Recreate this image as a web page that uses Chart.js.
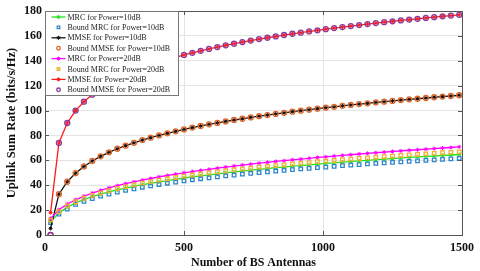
<!DOCTYPE html>
<html>
<head>
<meta charset="utf-8">
<title>Uplink Sum Rate</title>
<script src="https://cdn.jsdelivr.net/npm/chart.js@4/dist/chart.umd.min.js"></script>
<style>
    html, body { margin: 0; padding: 0; background: #fff; }
    #rateChart { display: block; }
</style>
</head>
<body>
<canvas id="rateChart" width="480" height="271"></canvas>
<script>
// Number of BS antennas (x)
var antennas = [20, 50, 80, 110, 140, 170, 200, 230, 260, 290, 320, 350, 380, 410, 440, 470, 500, 530, 560, 590,
    620, 650, 680, 710, 740, 770, 800, 830, 860, 890, 920, 950, 980, 1010, 1040, 1070, 1100, 1130, 1160, 1190,
    1220, 1250, 1280, 1310, 1340, 1370, 1400, 1430, 1460, 1490];

var mrc10 = [10.9, 17.6, 22.4, 25.8, 28.5, 30.8, 32.8, 34.6, 36.2, 37.7, 39.1, 40.4, 41.5, 42.7, 43.7, 44.7, 45.8, 46.7, 47.5, 48.3,
    49.1, 50.0, 50.7, 51.4, 52.1, 52.8, 53.4, 54.1, 54.6, 55.3, 55.8, 56.4, 57.0, 57.5, 58.0, 58.6, 59.0, 59.6, 60.0, 60.5,
    60.9, 61.4, 61.9, 62.3, 62.7, 63.1, 63.5, 64.0, 64.3, 64.7];
var boundMrc10 = [10.0, 16.8, 20.8, 24.6, 27.1, 29.3, 31.2, 32.9, 34.5, 35.8, 37.1, 38.4, 39.5, 40.6, 41.6, 42.5, 43.5, 44.4, 45.2, 45.9,
    46.7, 47.5, 48.2, 48.9, 49.5, 50.2, 50.8, 51.4, 51.9, 52.5, 53.1, 53.6, 54.2, 54.6, 55.2, 55.7, 56.1, 56.6, 57.1, 57.5,
    57.9, 58.4, 58.8, 59.2, 59.6, 60.0, 60.4, 60.8, 61.2, 61.5];
var mmse10 = [5.3, 32.8, 42.8, 49.7, 55.1, 59.5, 63.2, 66.4, 69.3, 71.8, 74.1, 76.3, 78.2, 80.0, 81.7, 83.3, 84.8, 86.3, 87.6, 88.9,
    90.1, 91.3, 92.4, 93.4, 94.5, 95.5, 96.4, 97.3, 98.2, 99.1, 99.9, 100.7, 101.5, 102.3, 103.0, 103.8, 104.5, 105.2, 105.8, 106.5,
    107.1, 107.7, 108.4, 109.0, 109.5, 110.1, 110.7, 111.2, 111.7, 112.3];
var boundMmse10 = [0, 32.8, 42.8, 49.7, 55.1, 59.5, 63.2, 66.4, 69.3, 71.8, 74.1, 76.3, 78.2, 80.0, 81.7, 83.3, 84.8, 86.3, 87.6, 88.9,
    90.1, 91.3, 92.4, 93.4, 94.5, 95.5, 96.4, 97.3, 98.2, 99.1, 99.9, 100.7, 101.5, 102.3, 103.0, 103.8, 104.5, 105.2, 105.8, 106.5,
    107.1, 107.7, 108.4, 109.0, 109.5, 110.1, 110.7, 111.2, 111.7, 112.3];
var mrc20 = [13.3, 20.3, 24.8, 28.3, 31.2, 33.7, 35.9, 37.8, 39.6, 41.2, 42.7, 44.1, 45.4, 46.7, 47.8, 48.9, 50.0, 51.0, 51.9, 52.8,
    53.7, 54.6, 55.4, 56.2, 56.9, 57.7, 58.4, 59.1, 59.7, 60.4, 61.0, 61.6, 62.3, 62.8, 63.4, 64.0, 64.5, 65.1, 65.6, 66.1,
    66.6, 67.1, 67.6, 68.1, 68.5, 69.0, 69.4, 69.9, 70.3, 70.8];
var boundMrc20 = [12.0, 18.8, 23.3, 26.7, 29.5, 31.8, 33.9, 35.7, 37.4, 38.9, 40.4, 41.7, 42.9, 44.1, 45.2, 46.2, 47.3, 48.2, 49.0, 49.9,
    50.7, 51.6, 52.4, 53.1, 53.8, 54.5, 55.2, 55.8, 56.4, 57.1, 57.6, 58.2, 58.9, 59.3, 59.9, 60.5, 61.0, 61.5, 62.0, 62.5,
    62.9, 63.4, 63.9, 64.4, 64.7, 65.2, 65.6, 66.1, 66.4, 66.8];
var mmse20 = [18.0, 74.0, 90.0, 100.0, 107.1, 112.8, 117.6, 121.8, 125.4, 128.6, 131.5, 134.1, 136.6, 138.8, 140.9, 142.8, 144.7, 146.4, 148.0, 149.5,
    151.0, 152.4, 153.7, 155.0, 156.2, 157.4, 158.5, 159.6, 160.7, 161.7, 162.6, 163.6, 164.5, 165.4, 166.3, 167.1, 167.9, 168.7, 169.5, 170.3,
    171.0, 171.7, 172.4, 173.1, 173.7, 174.4, 175.0, 175.7, 176.3, 176.9];
var boundMmse20 = [0, 74.0, 90.0, 100.0, 107.1, 112.8, 117.6, 121.8, 125.4, 128.6, 131.5, 134.1, 136.6, 138.8, 140.9, 142.8, 144.7, 146.4, 148.0, 149.5,
    151.0, 152.4, 153.7, 155.0, 156.2, 157.4, 158.5, 159.6, 160.7, 161.7, 162.6, 163.6, 164.5, 165.4, 166.3, 167.1, 167.9, 168.7, 169.5, 170.3,
    171.0, 171.7, 172.4, 173.1, 173.7, 174.4, 175.0, 175.7, 176.3, 176.9];

var xTicks = [0, 500, 1000, 1500];
var yTicks = [0, 20, 40, 60, 80, 100, 120, 140, 160, 180];

function toPoints(values) {
    return values.map(function(v, i) { return {x: antennas[i], y: v}; });
}

// line series: thin line with small star markers
function lineSet(label, values, color) {
    return {
        label: label,
        data: toPoints(values),
        borderColor: color,
        backgroundColor: color,
        borderWidth: 1.3,
        pointStyle: 'star',
        pointRadius: 2,
        pointBorderWidth: 1,
        showLine: true
    };
}
// bound series: markers only
function markSet(label, values, color, style) {
    return {
        label: label,
        data: toPoints(values),
        borderColor: color,
        backgroundColor: 'rgba(255,255,255,0)',
        pointStyle: style,
        pointRadius: 2.5,
        pointBorderWidth: 1.3,
        showLine: false
    };
}

var datasets = [
    lineSet('MRC for Power=10dB', mrc10, '#22e022'),
    markSet('Bound MRC for Power=10dB', boundMrc10, '#2f86cc', 'rect'),
    lineSet('MMSE for Power=10dB', mmse10, '#111111'),
    markSet('Bound MMSE for Power=10dB', boundMmse10, '#e0662a', 'circle'),
    lineSet('MRC for Power=20dB', mrc20, '#ff00ff'),
    markSet('Bound MRC for Power=20dB', boundMrc20, '#f0b030', 'rect'),
    lineSet('MMSE for Power=20dB', mmse20, '#ff1a1a'),
    markSet('Bound MMSE for Power=20dB', boundMmse20, '#8a3a9a', 'circle')
];
// later series drawn on top, like matlab
datasets.forEach(function(d, i) { d.order = datasets.length - i; });

var serif = "'Liberation Serif', 'Times New Roman', serif";

// box around the axes, inward ticks and the legend inside the plot
var framePlugin = {
    id: 'frame',
    afterDraw: function(chart) {
        var ctx = chart.ctx;
        var a = chart.chartArea;
        var xs = chart.scales.x, ys = chart.scales.y;
        ctx.save();
        ctx.strokeStyle = '#555';
        ctx.lineWidth = 1;
        ctx.beginPath();
        yTicks.forEach(function(t) {
            var py = Math.round(ys.getPixelForValue(t)) + 0.5;
            ctx.moveTo(a.left, py); ctx.lineTo(a.left + 4, py);
            ctx.moveTo(a.right, py); ctx.lineTo(a.right - 4, py);
        });
        xTicks.forEach(function(t) {
            var px = Math.round(xs.getPixelForValue(t)) + 0.5;
            ctx.moveTo(px, a.bottom); ctx.lineTo(px, a.bottom - 4);
            ctx.moveTo(px, a.top); ctx.lineTo(px, a.top + 4);
        });
        ctx.stroke();
        ctx.strokeRect(Math.round(a.left) + 0.5, Math.round(a.top) + 0.5, Math.round(a.right - a.left), Math.round(a.bottom - a.top));

        // legend
        var lx = Math.round(a.left) + 0.5, ly = Math.round(a.top) + 0.5;
        var lw = 133, lh = 84;
        ctx.fillStyle = '#fff';
        ctx.fillRect(lx, ly, lw, lh);
        ctx.strokeStyle = '#777';
        ctx.strokeRect(lx, ly, lw, lh);
        ctx.font = '8px ' + serif;
        ctx.textBaseline = 'middle';
        datasets.forEach(function(d, i) {
            var rowY = ly + 5.5 + i * 10.4;
            ctx.strokeStyle = d.borderColor;
            ctx.fillStyle = d.showLine ? d.borderColor : 'rgba(255,255,255,0)';
            if (d.showLine) {
                ctx.lineWidth = 1.3;
                ctx.beginPath();
                ctx.moveTo(lx + 6, rowY); ctx.lineTo(lx + 20, rowY);
                ctx.stroke();
            }
            ctx.lineWidth = d.pointBorderWidth;
            Chart.helpers.drawPoint(ctx, {
                pointStyle: d.pointStyle,
                radius: d.showLine ? 2 : 1.8,
                rotation: 0,
                borderWidth: d.pointBorderWidth
            }, lx + 13, rowY);
            ctx.fillStyle = '#222';
            ctx.fillText(d.label, lx + 22, rowY + 0.5);
        });
        ctx.restore();
    }
};

var rateChartCtx = document.getElementById('rateChart').getContext('2d');
var rateChart = new Chart(rateChartCtx, {
    type: 'line',
    data: { datasets: datasets },
    options: {
        responsive: false,
        animation: false,
        devicePixelRatio: 1,
        layout: { padding: { top: 11, right: 16, left: 0, bottom: 0 } },
        plugins: {
            legend: { display: false },
            tooltip: { enabled: false }
        },
        scales: {
            x: {
                type: 'linear',
                min: 0,
                max: 1500,
                afterBuildTicks: function(scale) {
                    scale.ticks = xTicks.map(function(v) { return {value: v}; });
                },
                afterFit: function(scale) { scale.height = 36; },
                grid: { color: '#e4e4e4', drawTicks: false },
                border: { display: false },
                ticks: {
                    padding: 6,
                    color: '#111',
                    maxRotation: 0,
                    callback: function(value) { return String(value); },
                    font: { family: serif, size: 12, weight: 'bold' }
                },
                title: {
                    display: true,
                    text: 'Number of BS Antennas',
                    color: '#111',
                    padding: { top: 0, bottom: 1 },
                    font: { family: serif, size: 12, weight: 'bold' }
                }
            },
            y: {
                min: 0,
                max: 180,
                afterBuildTicks: function(scale) {
                    scale.ticks = yTicks.map(function(v) { return {value: v}; });
                },
                afterFit: function(scale) { scale.width = 45; },
                grid: { color: '#e4e4e4', drawTicks: false },
                border: { display: false },
                ticks: {
                    padding: 3,
                    color: '#111',
                    callback: function(value) { return String(value); },
                    font: { family: serif, size: 12, weight: 'bold' }
                },
                title: {
                    display: true,
                    text: 'Uplink Sum Rate (bits/s/Hz)',
                    color: '#111',
                    padding: { top: 4, bottom: 0 },
                    font: { family: serif, size: 12.5, weight: 'bold' }
                }
            }
        }
    },
    plugins: [framePlugin]
});
</script>
</body>
</html>
